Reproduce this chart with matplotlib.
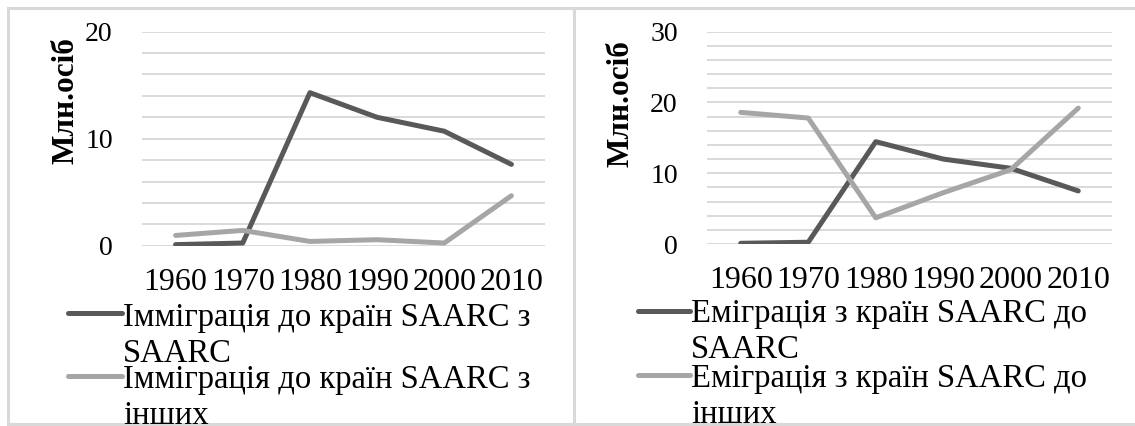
import matplotlib
matplotlib.use('Agg')
import matplotlib.pyplot as plt
from matplotlib.lines import Line2D
import numpy as np

plt.rcParams['font.family'] = ['Liberation Serif', 'DejaVu Serif']

years = ['1960', '1970', '1980', '1990', '2000', '2010']

# left chart: immigration
imm_saarc = [0.1, 0.25, 14.3, 12.0, 10.7, 7.6]
imm_other = [0.96, 1.43, 0.4, 0.56, 0.25, 4.67]
imm_labels = ['Імміграція до країн SAARC з\nSAARC',
              'Імміграція до країн SAARC з\nінших']

# right chart: emigration
emi_saarc = [0.1, 0.25, 14.46, 12.0, 10.7, 7.5]
emi_other = [18.6, 17.8, 3.7, 7.25, 10.5, 19.2]
emi_labels = ['Еміграція з країн SAARC до\nSAARC',
              'Еміграція з країн SAARC до\nінших']

ylab = 'Млн.осіб'

W, H = 1135, 426
DARK = '#595959'
LIGHT = '#a6a6a6'
GRID = '#d9d9d9'


def fx(x):
    return x / W


def fy(y):
    return 1 - y / H


fig = plt.figure(figsize=(W / 100, H / 100), dpi=100)


def draw_panel(rect, s1, s2, ymax, labels, ylab_pos, leg):
    ax = fig.add_axes(rect)
    x = np.arange(len(years))
    ax.set_xlim(-0.5, len(years) - 0.5)
    ax.set_ylim(0, ymax)
    for v in np.arange(0, ymax + 0.1, 2):
        ax.axhline(v, color=GRID, lw=1.4, zorder=1)
    ax.plot(x, s1, color=DARK, lw=3.6, solid_capstyle='round', solid_joinstyle='round', zorder=3)
    ax.plot(x, s2, color=LIGHT, lw=3.6, solid_capstyle='round', solid_joinstyle='round', zorder=3)
    ax.set_xticks(x)
    ax.set_xticklabels(years, fontsize=23)
    ax.set_yticks(np.arange(0, ymax + 0.1, 10))
    ax.tick_params(axis='x', length=0, pad=16)
    ax.tick_params(axis='y', length=0, pad=21, labelsize=20)
    for s in ax.spines.values():
        s.set_visible(False)
    ax.patch.set_alpha(0)
    fig.text(fx(ylab_pos[0]), fy(ylab_pos[1]), ylab, rotation=90, ha='center', va='center',
             fontsize=22.5, fontweight='bold')
    # legend drawn by hand (entries overlap like in the original)
    # ty = baseline of the last line of the label
    for lab, col, (hx0, hx1, hy, ty) in zip(labels, [DARK, LIGHT], leg):
        fig.add_artist(Line2D([fx(hx0), fx(hx1)], [fy(hy), fy(hy)], color=col, lw=3.6,
                              solid_capstyle='round', transform=fig.transFigure))
        fig.text(fx(hx1 + 1), fy(ty), lab, ha='left', va='baseline', fontsize=23.5,
                 linespacing=1.25)
    return ax


draw_panel([fx(142), fy(245.7), 403 / W, 214 / H], imm_saarc, imm_other, 20, imm_labels,
           (66, 101), [(68, 122, 313, 362), (68, 122, 376, 424)])
draw_panel([fx(707), fy(244), 405 / W, 212.3 / H], emi_saarc, emi_other, 30, emi_labels,
           (621, 103.5), [(638, 690, 311, 358), (638, 690, 375, 423)])

# outer frame and divider
fc = '#d9d9d9'
for xs, ys in [([8, W], [8, 8]), ([8, W], [423.5, 423.5]), ([8, 8], [8, 423.5]), ([574, 574], [8, 423.5])]:
    fig.add_artist(Line2D([fx(v) for v in xs], [fy(v) for v in ys], color=fc, lw=2.2,
                          transform=fig.transFigure))

fig.savefig('out.png', dpi=100, facecolor='white')
